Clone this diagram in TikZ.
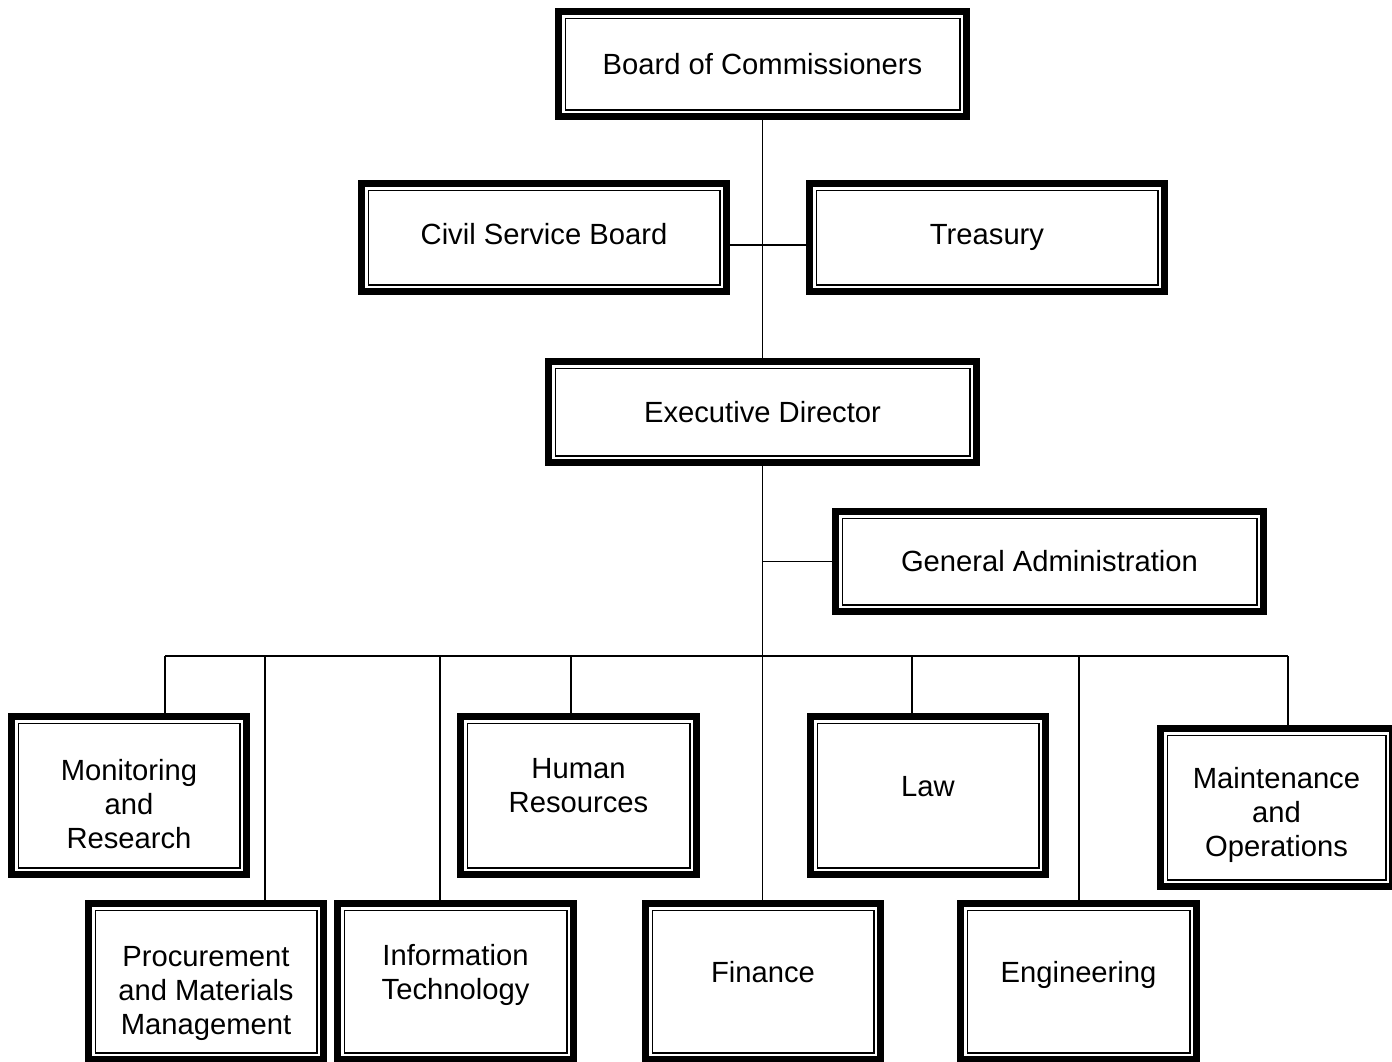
\documentclass[tikz,border=0pt]{standalone}
\usepackage{fontspec}
\setmainfont{Liberation Sans}
\newcommand{\boxtext}[2]{\raisebox{#1}[0pt][0pt]{\begin{tabular}{@{}c@{}}#2\end{tabular}}}
\begin{document}
\begin{tikzpicture}[x=0.5pt,y=-0.5pt,
  orgbox/.style={draw, line width=3.5pt, inner sep=0pt, fill=white,
    font=\fontsize{14.6}{16.8}\selectfont,
    path picture={\draw[line width=0.8pt]
      ([shift={(3.4pt,-3.4pt)}]path picture bounding box.north west) rectangle
      ([shift={(-3.4pt,3.4pt)}]path picture bounding box.south east);}},
  conn/.style={draw, line width=0.75pt}]
\useasboundingbox (0,0) rectangle (1392,1061);

\node[orgbox, minimum width=204pt, minimum height=52.5pt] (board) at (762.5,64) {\boxtext{-5.48pt}{Board of Commissioners}};
\node[orgbox, minimum width=182.5pt, minimum height=54pt] (civil) at (544,237.5) {\boxtext{-3.73pt}{Civil Service Board}};
\node[orgbox, minimum width=177.5pt, minimum height=54pt] (treasury) at (987,237.5) {\boxtext{-3.73pt}{Treasury}};
\node[orgbox, minimum width=214pt, minimum height=50.5pt] (exec) at (762.5,412) {\boxtext{-5.48pt}{Executive Director}};
\node[orgbox, minimum width=214pt, minimum height=50pt] (genadmin) at (1049.5,561.5) {\boxtext{-5.48pt}{General Administration}};

\node[orgbox, minimum width=117.5pt, minimum height=79pt] (monitoring) at (129,795.5) {\boxtext{-9.73pt}{Monitoring\\and\\Research}};
\node[orgbox, minimum width=118pt, minimum height=79pt] (hr) at (578.5,795.5) {\boxtext{-0.23pt}{Human\\Resources}};
\node[orgbox, minimum width=117.5pt, minimum height=79pt] (law) at (928,795.5) {\boxtext{-0.73pt}{Law}};
\node[orgbox, minimum width=116pt, minimum height=79pt] (maint) at (1276.5,807.5) {\boxtext{-7.73pt}{Maintenance\\and\\Operations}};

\node[orgbox, minimum width=117.5pt, minimum height=78pt] (procurement) at (206,981.5) {\boxtext{-9.73pt}{Procurement\\and Materials\\Management}};
\node[orgbox, minimum width=118pt, minimum height=78pt] (it) at (455.5,981.5) {\boxtext{-0.73pt}{Information\\Technology}};
\node[orgbox, minimum width=117.5pt, minimum height=78pt] (finance) at (763,981.5) {\boxtext{-0.98pt}{Finance}};
\node[orgbox, minimum width=118pt, minimum height=78pt] (engineering) at (1078.5,981.5) {\boxtext{-0.98pt}{Engineering}};

% connectors
\draw[conn] (board.south) -- (exec.north);
\draw[conn] ([yshift=-3.75pt]civil.east) -- ([yshift=-3.75pt]treasury.west);
\draw[conn] (exec.south) -- (exec.south |- finance.north);
\draw[conn] (exec.south |- genadmin.west) -- (genadmin.west);

\coordinate (dmon) at (165,656);
\coordinate (dproc) at (265,656);
\coordinate (dit) at (440,656);
\coordinate (dhr) at (571,656);
\coordinate (dlaw) at (912,656);
\coordinate (deng) at (1079,656);
\coordinate (dmaint) at (1288,656);
\draw[conn] (dmon) -- (dmaint);
\draw[conn] (dmon) -- (dmon |- monitoring.north);
\draw[conn] (dproc) -- (dproc |- procurement.north);
\draw[conn] (dit) -- (dit |- it.north);
\draw[conn] (dhr) -- (dhr |- hr.north);
\draw[conn] (dlaw) -- (dlaw |- law.north);
\draw[conn] (deng) -- (deng |- engineering.north);
\draw[conn] (dmaint) -- (dmaint |- maint.north);
\end{tikzpicture}
\end{document}
